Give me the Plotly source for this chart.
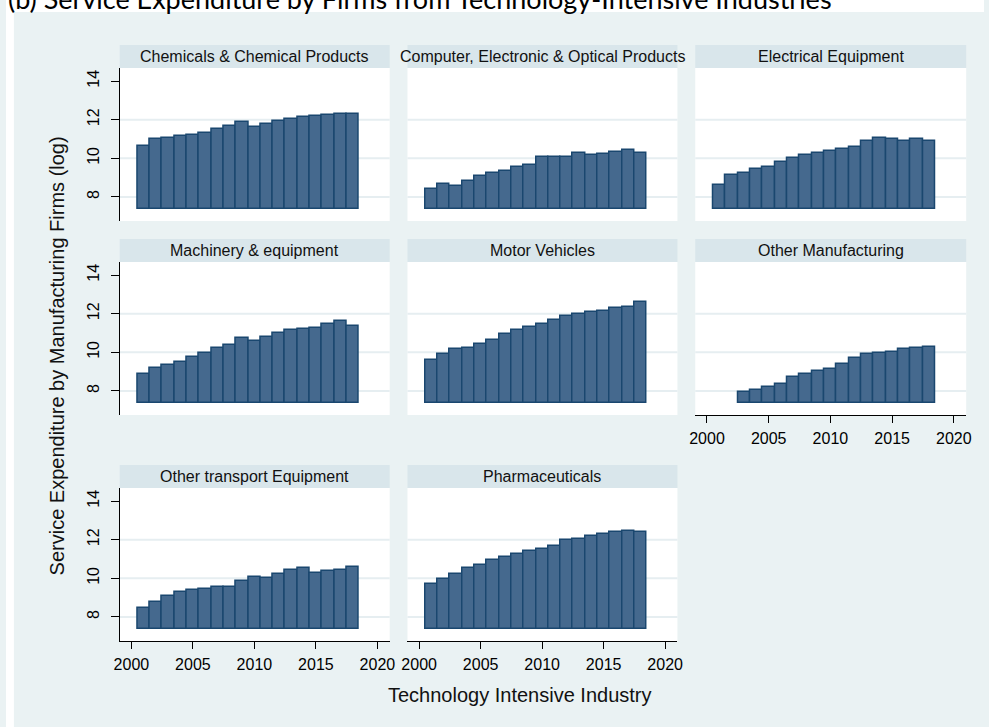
import numpy as np
import plotly.graph_objects as go

# ---------------- data ----------------
YEARS = list(range(2001, 2019))
OTHER_MFG_YEARS = list(range(2003, 2019))

PANEL_TITLES = [
    "Chemicals & Chemical Products",
    "Computer, Electronic & Optical Products",
    "Electrical Equipment",
    "Machinery & equipment",
    "Motor Vehicles",
    "Other Manufacturing",
    "Other transport Equipment",
    "Pharmaceuticals",
]

chemicals = [10.64, 11.01, 11.04, 11.13, 11.22, 11.32, 11.53, 11.69, 11.90,
             11.62, 11.77, 11.91, 12.05, 12.14, 12.21, 12.26, 12.30, 12.30]
computer = [8.43, 8.66, 8.57, 8.82, 9.06, 9.23, 9.36, 9.57, 9.67,
            10.05, 10.09, 10.07, 10.28, 10.16, 10.21, 10.31, 10.45, 10.28]
electrical = [8.63, 9.15, 9.25, 9.44, 9.57, 9.79, 10.00, 10.16, 10.28,
              10.40, 10.50, 10.56, 10.92, 11.04, 10.99, 10.89, 10.99, 10.92]
machinery = [8.87, 9.18, 9.33, 9.49, 9.74, 9.98, 10.22, 10.36, 10.72,
             10.57, 10.77, 11.01, 11.17, 11.22, 11.25, 11.48, 11.61, 11.37]
motor = [9.62, 9.93, 10.17, 10.21, 10.45, 10.65, 10.94, 11.13, 11.29,
         11.48, 11.68, 11.87, 11.97, 12.09, 12.16, 12.32, 12.37, 12.61]
other_mfg = [7.93, 8.03, 8.19, 8.38, 8.71, 8.86, 9.05, 9.14,
             9.38, 9.69, 9.90, 9.98, 10.02, 10.16, 10.22, 10.26]
other_transport = [8.48, 8.77, 9.10, 9.29, 9.38, 9.45, 9.57, 9.57, 9.84,
                   10.05, 10.03, 10.24, 10.45, 10.54, 10.28, 10.36, 10.42, 10.57]
pharma = [9.72, 9.98, 10.21, 10.52, 10.69, 10.93, 11.09, 11.25, 11.44,
          11.51, 11.68, 11.97, 12.06, 12.21, 12.30, 12.42, 12.46, 12.42]

SERIES = [
    (YEARS, chemicals), (YEARS, computer), (YEARS, electrical),
    (YEARS, machinery), (YEARS, motor), (OTHER_MFG_YEARS, other_mfg),
    (YEARS, other_transport), (YEARS, pharma),
]

Y_TICKS = [8, 10, 12, 14]
X_TICKS = [2000, 2005, 2010, 2015, 2020]

# ---------------- style / geometry ----------------
W, H = 989, 727
BG = "#eaf2f3"
STRIP = "#d9e6eb"
FILL = "#45698e"
EDGE = "#1a476f"
GRID = "#e6eef1"
FONT = "Liberation Sans, Arial, sans-serif"
BASE = 7.38
YRANGE = [6.75, 14.68]
XRANGE = [1999.05, 2021.0]

COLS = [(115, 388), (406, 679), (697, 971)]
ROWS = [(68, 221), (262, 415), (488, 641)]
STRIP_TOPS = [45, 239, 465]
POS = [(0, 0), (0, 1), (0, 2), (1, 0), (1, 1), (1, 2), (2, 0), (2, 1)]
SHOW_X = {5, 6, 7}
SHOW_Y = {0, 3, 6}


def px(x):
    return x / W


def py(y):
    return 1 - y / H


fig = go.Figure()
layout = dict(
    width=W, height=H,
    margin=dict(l=0, r=0, t=0, b=0),
    paper_bgcolor=BG, plot_bgcolor="white",
    showlegend=False, bargap=0,
    font=dict(family=FONT, color="#000", size=16),
)
shapes = []
annotations = []

# white bands outside the Stata graph region
shapes.append(dict(type="rect", xref="paper", yref="paper", x0=0, x1=1,
                   y0=py(12), y1=1, fillcolor="white", line_width=0, layer="below"))
shapes.append(dict(type="rect", xref="paper", yref="paper", x0=0, x1=px(8),
                   y0=0, y1=1, fillcolor="white", line_width=0, layer="below"))

for i, ((r, c), (xs, vals)) in enumerate(zip(POS, SERIES)):
    n = i + 1
    sfx = "" if n == 1 else str(n)
    x0, x1 = COLS[c]
    y0, y1 = ROWS[r]
    fig.add_trace(go.Bar(
        x=xs, y=np.array(vals) - BASE, base=BASE, width=1,
        marker=dict(color=FILL, line=dict(color=EDGE, width=1.5)),
        xaxis="x" + sfx, yaxis="y" + sfx,
        customdata=vals, hovertemplate="%{x}: %{customdata}<extra></extra>",
    ))
    layout["xaxis" + sfx] = dict(
        domain=[px(x0), px(x1)], range=XRANGE, anchor="y" + sfx,
        tickvals=X_TICKS, showgrid=False, zeroline=False,
        visible=(i in SHOW_X), showline=True, linecolor="#000", linewidth=1.3,
        ticks="outside", ticklen=7, tickwidth=1.3, tickcolor="#000",
        tickfont=dict(size=16, color="#000", family=FONT), ticklabelstandoff=2,
    )
    layout["yaxis" + sfx] = dict(
        domain=[py(y1), py(y0)], range=YRANGE, anchor="x" + sfx,
        tickvals=Y_TICKS, showgrid=False, zeroline=False,
        visible=(i in SHOW_Y), showline=True, linecolor="#000", linewidth=1.3,
        ticks="outside", ticklen=8, tickwidth=1.3, tickcolor="#000",
        tickangle=-90, tickfont=dict(size=16, color="#000", family=FONT),
        ticklabelstandoff=5,
    )
    # grid lines (Stata omits the top one)
    for v in Y_TICKS[:-1]:
        shapes.append(dict(type="line", xref="x%s domain" % sfx, yref="y" + sfx,
                           x0=0, x1=1, y0=v, y1=v,
                           line=dict(color=GRID, width=2), layer="below"))
    # strip header
    st = STRIP_TOPS[r]
    shapes.append(dict(type="rect", xref="paper", yref="paper",
                       x0=px(x0), x1=px(x1), y0=py(y0), y1=py(st),
                       fillcolor=STRIP, line_width=0, layer="below"))
    annotations.append(dict(text=PANEL_TITLES[i], xref="paper", yref="paper",
                            x=px((x0 + x1) / 2), y=py((st + y0) / 2),
                            xanchor="center", yanchor="middle", showarrow=False,
                            font=dict(size=16, color="#111", family=FONT)))

# axis titles
annotations.append(dict(text="Service Expenditure by Manufacturing Firms (log)",
                        xref="paper", yref="paper", x=px(52), y=py(356),
                        textangle=-90, showarrow=False, xanchor="center",
                        yanchor="middle", font=dict(size=20, color="#111", family=FONT)))
annotations.append(dict(text="Technology Intensive Industry",
                        xref="paper", yref="paper", x=px(520), y=py(695),
                        showarrow=False, xanchor="center", yanchor="middle",
                        font=dict(size=20, color="#111", family=FONT)))
# document caption (cut off at the top, as in the original)
annotations.append(dict(text="(b) Service Expenditure by Firms from Technology-Intensive Industries",
                        xref="paper", yref="paper", x=0, y=py(17),
                        showarrow=False, xanchor="left", yanchor="bottom",
                        font=dict(size=27, color="#000", family="Lato, Open Sans, sans-serif")))

layout["shapes"] = shapes
layout["annotations"] = annotations
fig.update_layout(**layout)
fig.write_html("out.html")
